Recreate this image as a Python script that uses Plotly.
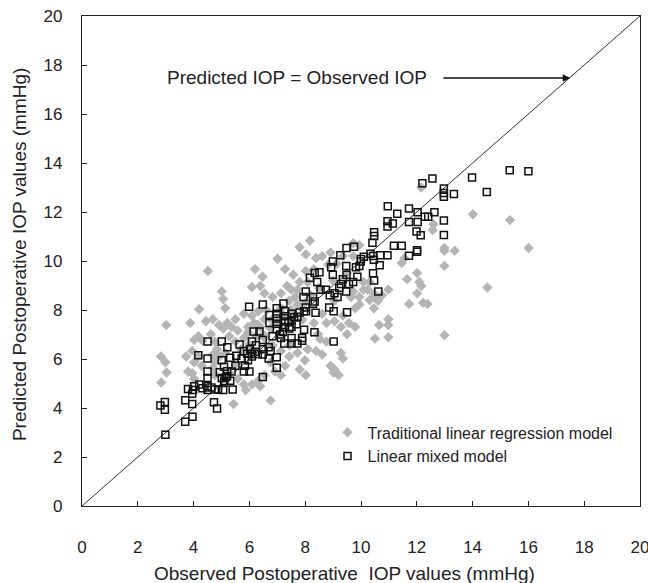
import plotly.graph_objects as go

# Linear mixed model (open squares)
lmm_pts = [(15.33,13.70),(16.0,13.66),(13.98,13.41),(14.51,12.82),(12.56,13.37),(12.20,13.17),(12.97,12.96),(12.97,12.78),(12.97,12.62),(13.33,12.73),(12.97,11.65),(12.97,11.06),(10.96,12.23),(11.30,11.93),(11.72,12.14),(12.03,11.99),(12.63,11.99),(12.29,11.81),(12.41,11.81),(11.72,11.59),(12.03,11.59),(10.95,11.62),(11.14,11.53),(10.95,11.41),(11.99,11.20),(12.14,11.05),(11.18,10.62),(11.46,10.62),(12.01,10.44),(12.01,10.38),(11.72,10.21),(10.47,11.17),(10.47,11.02),(10.41,10.74),(10.34,10.30),(10.43,10.20),(10.69,10.23),(10.95,10.23),(10.67,9.83),(10.43,9.50),(10.47,9.20),(10.62,8.76),(10.46,10.05),(9.99,9.98),(9.94,9.80),(9.82,9.74),(9.87,9.36),(9.75,10.58),(9.48,10.53),(9.26,10.23),(8.99,9.98),(8.93,9.74),(8.99,9.44),(9.47,9.80),(9.48,9.44),(9.57,9.06),(9.72,9.14),(9.28,9.06),(9.35,9.26),(9.22,8.91),(9.47,8.76),(9.05,8.68),(8.88,8.60),(8.74,8.83),(9.16,8.53),(8.55,8.83),(8.17,9.32),(8.34,9.51),(8.51,9.54),(8.43,9.14),(8.28,8.53),(8.34,8.35),(8.28,8.26),(8.02,8.76),(7.94,8.53),(7.96,7.95),(8.03,7.95),(8.37,7.89),(8.86,8.10),(9.02,7.95),(9.50,7.91),(9.02,6.71),(8.33,7.09),(7.96,7.19),(7.89,6.86),(7.89,6.74),(7.22,8.27),(6.98,8.07),(6.98,7.85),(6.98,7.65),(6.98,7.44),(6.98,7.22),(7.28,7.95),(7.28,7.74),(7.28,7.53),(7.28,7.31),(7.51,7.85),(7.51,7.59),(7.51,7.31),(7.72,7.72),(6.72,7.80),(6.72,7.47),(6.83,6.93),(7.13,6.86),(7.25,6.63),(7.51,6.86),(7.51,6.63),(7.72,6.63),(6.98,6.07),(6.98,5.64),(6.76,6.33),(6.69,6.02),(6.48,8.22),(5.99,8.13),(6.15,7.12),(6.36,7.12),(6.09,6.71),(6.48,6.78),(6.48,6.40),(6.69,6.48),(6.48,6.18),(6.24,6.56),(6.02,6.40),(5.92,6.21),(6.09,6.10),(5.80,6.33),(5.65,6.59),(5.53,6.13),(5.72,6.02),(5.95,5.95),(5.84,5.72),(6.00,5.49),(5.80,5.49),(6.48,5.27),(5.21,6.48),(5.31,6.05),(5.50,5.72),(5.36,5.49),(5.31,5.11),(5.01,6.71),(5.01,5.95),(5.09,5.68),(4.94,5.46),(5.01,5.22),(5.09,5.04),(5.16,5.27),(4.88,4.76),(5.40,4.76),(5.06,4.73),(4.50,6.71),(4.50,6.02),(4.50,5.49),(4.50,5.22),(4.50,4.89),(4.50,4.73),(4.17,6.15),(4.20,4.96),(4.02,4.89),(3.98,4.73),(3.80,4.78),(4.64,4.84),(4.76,4.76),(4.32,4.81),(3.95,4.58),(3.70,4.32),(3.95,4.16),(4.73,4.23),(4.84,3.98),(3.70,3.44),(3.96,3.64),(2.81,4.10),(2.97,4.25),(2.97,3.93),(2.99,2.91),(7.69,7.42),(7.43,7.24),(8.02,8.10),(10.0,10.08),(10.1,10.17),(7.1,7.0),(7.2,7.1),(7.4,7.5),(7.6,7.7),(7.8,7.9),(5.1,5.1),(5.2,5.3),(5.2,5.5),(6.2,6.3),(6.3,6.2),(6.1,6.2)]

# Traditional linear regression model (grey diamonds)
tlr_pts = [(14.01,11.91),(15.34,11.67),(16.01,10.53),(14.53,8.92),(12.99,6.97),(12.99,9.80),(12.99,10.53),(12.99,10.42),(13.36,10.42),(12.16,13.00),(12.60,11.50),(12.57,11.26),(11.72,8.25),(12.23,8.29),(12.38,8.25),(12.01,8.68),(12.09,9.14),(12.01,9.51),(12.16,8.98),(11.65,9.26),(11.46,9.92),(11.56,10.11),(10.98,8.83),(10.98,7.62),(10.98,7.39),(10.65,7.39),(10.98,6.89),(10.50,6.83),(10.50,8.53),(10.46,8.07),(10.31,8.41),(10.24,8.83),(9.94,8.22),(9.79,8.07),(9.64,8.53),(9.35,7.77),(9.28,7.31),(9.57,7.47),(9.79,7.31),(9.50,7.01),(9.28,6.25),(9.35,6.02),(8.91,5.72),(9.05,5.57),(9.20,5.34),(9.02,5.45),(8.54,6.81),(8.39,6.33),(8.61,6.18),(7.99,5.95),(7.80,5.57),(8.02,5.34),(7.43,6.10),(7.28,5.72),(7.13,5.34),(6.76,4.31),(6.54,5.34),(6.39,4.89),(5.87,4.73),(5.43,4.16),(5.80,4.96),(8.17,10.83),(7.80,10.56),(8.02,10.27),(7.01,10.09),(7.28,9.67),(7.57,9.44),(6.20,9.67),(6.47,9.36),(6.09,8.94),(6.39,8.98),(6.54,8.68),(6.83,8.53),(7.35,8.98),(7.50,8.83),(7.13,8.68),(8.39,10.12),(8.61,10.20),(8.91,10.35),(8.83,9.86),(9.13,9.89),(9.35,10.20),(9.72,10.20),(9.72,10.73),(9.94,10.65),(8.31,9.67),(8.02,9.59),(7.80,9.14),(4.51,9.59),(5.01,8.76),(5.06,8.45),(5.13,8.07),(4.20,8.03),(3.02,7.39),(3.88,7.47),(4.44,7.54),(4.69,7.62),(4.91,7.39),(5.06,7.24),(5.21,7.47),(5.36,7.31),(5.58,7.16),(5.50,7.62),(5.80,7.85),(6.09,7.77),(6.32,7.95),(6.54,7.62),(5.95,7.31),(6.17,7.47),(6.39,7.31),(6.76,7.24),(4.02,6.78),(4.17,6.93),(4.32,6.74),(4.62,7.01),(4.76,6.71),(3.73,6.10),(3.95,6.33),(4.17,6.10),(4.02,5.87),(4.29,5.72),(3.80,5.49),(3.95,5.42),(4.02,5.19),(2.83,6.10),(2.99,5.87),(3.03,5.45),(2.84,5.04),(4.84,6.40),(4.69,6.18),(4.91,6.10),(5.13,6.25),(5.28,6.93),(5.50,6.71),(5.80,6.86),(5.95,7.09),(6.24,6.93),(6.54,6.86),(6.83,6.56),(7.13,6.33),(7.43,6.56),(7.72,6.25),(8.09,6.40),(4.76,5.34),(4.69,5.64),(4.76,5.87),(5.28,5.42),(5.58,5.19),(6.09,4.96),(6.32,5.11),(6.76,5.87),(6.91,5.49),(8.31,7.47),(8.46,7.01),(8.76,6.71),(9.05,7.54),(8.76,7.47),(8.61,7.85),(9.05,8.38),(7.72,8.22),(7.43,8.38),(7.65,8.53),(7.13,8.07),(7.72,8.83),(8.09,9.14),(10.09,9.14),(10.09,8.83),(10.31,9.14),(10.46,8.68),(10.61,8.38),(10.75,8.60),(9.72,8.76),(9.94,8.53),(5.5,5.8),(6.0,6.6),(6.5,7.0),(7.0,7.5),(7.5,8.0),(8.0,8.3),(8.5,8.9),(9.0,9.2),(9.5,9.5),(7.2,7.8),(6.8,7.6),(8.2,8.6),(5.7,6.4),(6.3,7.4),(6.6,8.0),(7.9,7.6)]

lmm_x = [p[0] for p in lmm_pts]
lmm_y = [p[1] for p in lmm_pts]
tlr_x = [p[0] for p in tlr_pts]
tlr_y = [p[1] for p in tlr_pts]

font_family = "Liberation Sans, Arial, sans-serif"
txt = "#222222"

fig = go.Figure()
fig.add_trace(go.Scatter(x=[0, 20], y=[0, 20], mode="lines",
                         line=dict(color="#333333", width=1), showlegend=False, hoverinfo="skip"))
fig.add_trace(go.Scatter(x=tlr_x, y=tlr_y, mode="markers", name="Traditional linear regression model",
                         marker=dict(symbol="diamond", size=8, color="#b5b5b5", line=dict(width=0))))
fig.add_trace(go.Scatter(x=lmm_x, y=lmm_y, mode="markers", name="Linear mixed model",
                         marker=dict(symbol="square-open", size=7, color="#111111", line=dict(width=1.5, color="#111111"))))

axis_common = dict(range=[0, 20], dtick=2, ticks="inside", ticklen=5, tickwidth=1, tickcolor="#222",
                   showline=True, linecolor="#222", linewidth=1.2, mirror=True, ticklabeloverflow="allow",
                   automargin=False,
                   showgrid=False, zeroline=False, tickfont=dict(size=17, color=txt, family=font_family))

fig.update_layout(
    width=648, height=583,
    margin=dict(l=82, r=8, t=16, b=77, autoexpand=False),
    paper_bgcolor="white", plot_bgcolor="white",
    font=dict(family=font_family, color=txt),
    xaxis=dict(**axis_common, ticklabelstandoff=25),
    yaxis=dict(**axis_common, ticklabelstandoff=15),
    legend=dict(x=0.44, y=0.185, xanchor="left", yanchor="top", bgcolor="rgba(0,0,0,0)",
                font=dict(size=16, color=txt, family=font_family), tracegroupgap=0),
    showlegend=True,
)

fig.add_annotation(x=0.47, y=0, xref="paper", yref="paper", yshift=-67, xanchor="center", yanchor="middle",
                   text="Observed Postoperative  IOP values (mmHg)", showarrow=False,
                   font=dict(size=19, color=txt, family=font_family))
fig.add_annotation(x=0, y=0.512, xref="paper", yref="paper", xshift=-63, xanchor="center", yanchor="middle",
                   text="Predicted Postoperative IOP values (mmHg)", textangle=-90, showarrow=False,
                   font=dict(size=19, color=txt, family=font_family))
fig.add_annotation(x=7.69, y=17.47, xref="x", yref="y", text="Predicted IOP = Observed IOP",
                   showarrow=False, font=dict(size=19, color=txt, family=font_family))
fig.add_annotation(x=17.5, y=17.47, ax=12.9, ay=17.47, xref="x", yref="y", axref="x", ayref="y",
                   text="", showarrow=True, arrowhead=2, arrowsize=1, arrowwidth=1.5, arrowcolor="#111")

fig.write_html("out.html", config={"displayModeBar": False},
               post_script="document.body.style.margin='0';document.body.style.padding='0';")
